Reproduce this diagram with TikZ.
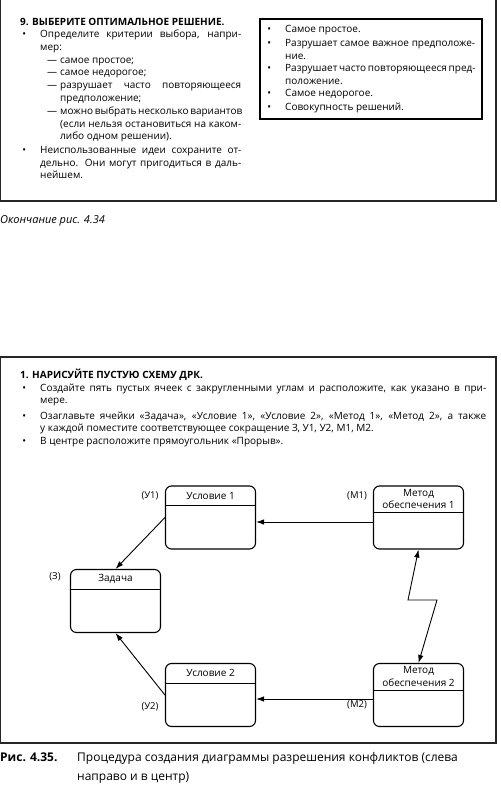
\documentclass[tikz,border=0pt]{standalone}
\usepackage{fontspec}
\setmainfont{Open Sans}
\usetikzlibrary{arrows.meta}
\newcommand{\bul}{\makebox[0pt][r]{•\hspace{14pt}}}
\newcommand{\dsh}{\makebox[0pt][r]{—\hspace{3pt}}}
\newcommand{\jl}[2]{\makebox[#1][s]{#2}}

\begin{document}
\begin{tikzpicture}[
  x=1pt,y=-1pt,>={Latex[length=8pt,width=5.5pt]},
  every node/.style={inner sep=0pt,font=\fontsize{10}{12.5}\selectfont,text=black},
  frame/.style={draw=black!85,line width=1.4pt},
  heading/.style={anchor=base west,font=\fontsize{10}{12.5}\selectfont\bfseries},
  item/.style={anchor=base west,align=justify,text width=#1},
  cell/.style={draw,line width=1.1pt,rounded corners=6pt,minimum width=90pt,minimum height=63pt},
  celltitle/.style={anchor=north,align=center,minimum height=20pt,inner ysep=3.5pt},
  rule/.style={line width=1.1pt},
  tag/.style={font=\fontsize{9.5}{12}\selectfont},
  link/.style={->,line width=.9pt},
  captext/.style={anchor=base west,font=\fontsize{12}{19}\selectfont}
]
\useasboundingbox (0,0) rectangle (500,786);
% Upper panel, end of the previous figure.
\draw[frame] (.7,-5) rectangle (496,201);
\draw[line width=1.1pt] (260,19) rectangle (482,119);
\node[heading] (lt) at (20,25.5) {9. ВЫБЕРИТЕ ОПТИМАЛЬНОЕ РЕШЕНИЕ.};
\node[item=201pt] (li1) at (40,38) {\jl{201pt}{\bul Определите критерии выбора, напри-}\\мер:};
\node[item=181pt] (ls1) at (60,64) {\dsh самое простое;};
\node[item=181pt] (ls2) at (60,76) {\dsh самое недорогое;};
\node[item=181pt] (ls3) at (60,89) {\jl{181pt}{\dsh разрушает часто повторяющееся}\\предположение;};
\node[item=181pt] (ls4) at (60,115)
  {\jl{181pt}{\dsh можно выбрать несколько вариантов}\\\jl{181pt}{(если нельзя остановиться на каком-}\\либо одном решении).};
\node[item=201pt] (li2) at (40,154)
  {\jl{201pt}{\bul Неиспользованные идеи сохраните от-}\\\jl{201pt}{дельно. Они могут пригодиться в даль-}\\нейшем.};
\node[item=190pt] (ri1) at (285,33) {\bul Самое простое.};
\node[item=190pt] (ri2) at (285,47) {\jl{190pt}{\bul Разрушает самое важное предположе-}\\ние.};
\node[item=190pt] (ri3) at (285,72) {\jl{190pt}{\bul Разрушает часто повторяющееся пред-}\\положение.};
\node[item=190pt] (ri4) at (285,97) {\bul Самое недорогое.};
\node[item=190pt] (ri5) at (285,111) {\bul Совокупность решений.};
\node[captext,font=\fontsize{11}{13}\selectfont\itshape] (cap1) at (0,223) {Окончание рис. 4.34};
% Lower panel: the empty conflict diagram.
\draw[frame] (.7,357) rectangle (496,743);
\node[heading] (bt) at (20,378) {1. НАРИСУЙТЕ ПУСТУЮ СХЕМУ ДРК.};
\node[item=446pt] (bi1) at (40,391)
  {\jl{446pt}{\bul Создайте пять пустых ячеек с закругленными углам и расположите, как указано в при-}\\мере.};
\node[item=446pt] (bi2) at (40,419)
  {\jl{446pt}{\bul Озаглавьте ячейки «Задача», «Условие 1», «Условие 2», «Метод 1», «Метод 2», а также}\\у каждой поместите соответствующее сокращение З, У1, У2, М1, М2.};
\node[item=446pt] (bi3) at (40,444) {\bul В центре расположите прямоугольник «Прорыв».};
\node[cell] (zd) at (115.5,601) {};
\node[cell] (u1) at (210.5,517.5) {};
\node[cell] (u2) at (210.5,695) {};
\node[cell] (m1) at (418.5,517.5) {};
\node[cell] (m2) at (418.5,695) {};
\node[celltitle] (zd-t) at (zd.north) {Задача};
\node[celltitle] (u1-t) at (u1.north) {Условие 1};
\node[celltitle] (u2-t) at (u2.north) {Условие 2};
\node[celltitle] (m1-t) at (m1.north) {Метод\\обеспечения 1};
\node[celltitle] (m2-t) at (m2.north) {Метод\\обеспечения 2};
\foreach \c in {zd,u1,u2,m1,m2}
  \draw[rule] (\c.west |- \c-t.south) -- (\c.east |- \c-t.south);
\node[tag] (zd-l) at (55,577) {(З)};
\node[tag] (u1-l) at (150,496) {(У1)};
\node[tag] (m1-l) at (357,496) {(М1)};
\node[tag] (u2-l) at (150,707) {(У2)};
\node[tag] (m2-l) at (357,705) {(М2)};
\draw[link] ([yshift=-4.5pt]m1.west) -- ([yshift=-4.5pt]u1.east);
\draw[link] (u1.west) -- (zd.north);
\draw[link] (u2.west) -- (zd.south);
\draw[link] ([yshift=-4pt]m2.west) -- ([yshift=-4pt]u2.east);
% Break between the two methods.
\coordinate (zig1) at (408,600);
\coordinate (zig2) at (437,600);
\draw[link,<->] (m1.south) -- (zig1) -- (zig2) -- (m2.north);
\node[captext,font=\fontsize{12}{19}\selectfont\bfseries] (cap2) at (0,761) {Рис. 4.35.};
\node[captext] (cap3) at (77,761) {Процедура создания диаграммы разрешения конфликтов (слева};
\node[captext] (cap4) at (77,780) {направо и в центр)};
\end{tikzpicture}
\end{document}
